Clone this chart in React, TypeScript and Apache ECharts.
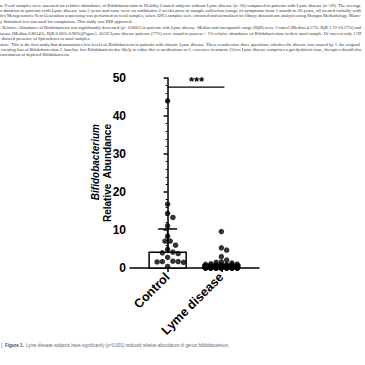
import React, { useEffect, useRef } from "react";
import * as echarts from "echarts";

const groups = ["Control", "Lyme disease"];
const groupPos = [0, 1];
const controlValues = [44.0, 16.8, 14.4, 13.3, 11.1, 8.4, 7.1, 7.1, 6.0, 4.9, 4.2, 4.0, 3.8, 2.8, 1.8, 1.7, 1.7, 1.6, 1.5, 0.4];
const lymeValues = [
  9.6, 5.3, 4.7, 3.0, 2.1, 1.6, 1.5, 1.3, 1.1, 1.0,
  0.95, 0.9, 0.85, 0.8, 0.8, 0.7, 0.6, 0.6, 0.5, 0.5,
  0.45, 0.4, 0.4, 0.35, 0.3, 0.3, 0.25, 0.2, 0.2, 0.2,
  0.15, 0.15, 0.1, 0.1, 0.1, 0.08, 0.05, 0.05, 0.05, 0.03,
  0.02, 0.02, 0.01, 0.01, 0, 0, 0, 0, 0, 0,
  0, 0, 0, 0, 0, 0, 0, 0, 0,
];
const medians = [4.17, 0.8];
const upperIQR = [10.27, 0.96];
const significance = { from: 0, to: 1, y: 47.6, label: "***" };
const yTicks = { min: 0, max: 50, interval: 10 };

const paragraphLines = [
  "n: Fecal samples were assessed for relative abundance of Bifidobacterium in Healthy Control subjects without Lyme disease (n=20) compared to patients with Lyme disease (n=59). The average",
  "n duration in patients with Lyme disease was 5 years and none were on antibiotics 2 weeks prior to sample collection (range of symptoms from 1 month to 20 years, all treated initially with",
  "tic) Metagenomics Next Generation sequencing was performed on fecal samples, where DNA samples were extracted and normalized for library downstream analysis using Shotgun Methodology. Mann-",
  "y Statistical test was used for comparison. This study was IRB approved.",
  ": Relative Abundance of Bifidobacteria was significantly decreased (p< 0.0001) in patients with Lyme disease. Median and interquartile range (IQR) were: Control (Median 4.17%; IQR 1.72-10.27%) and",
  "isease (Median 0.8014%; IQR 0.00%-0.96%)(Figure). 50/59 Lyme disease patients (77%) were found to possess < 1% relative abundance of Bifidobacterium in their stool sample. Of interest only 1/39",
  " showed presence of Spirochetes in stool samples.",
  "sion:  This is the first study that demonstrates low levels of Bifidobacteria in patients with chronic Lyme disease. These results raise three questions; whether the disease was caused by 1. the original",
  "-creating loss of Bifidobacterium 2. baseline low Bifidobacteria due likely to either diet or medications or 3. excessive treatment. Given Lyme disease comprises a gut dysbiosis issue, therapies should also",
  "ementation of depleted Bifidobacteria.",
];
const fullLine = [true, true, true, false, true, true, false, true, true, false];
const lineY = [5, 10.3, 15.9, 21.4, 27.6, 33, 38.3, 44.2, 49.4, 54.7];
const captionLabel = "Figure 1.";
const captionText = "Lyme disease subjects have significantly (p<0.001) reduced relative abundance of genus bifidobacterium.";

function swarm(values: number[], center: number) {
  const pxPerX = 54;
  const pxPerY = 3.8;
  const diameter = 5.3;
  const maxPx = 17;
  const step = diameter / 2;
  const sorted = values.map((v, i) => ({ v, i })).sort((a, b) => b.v - a.v);
  const placed: { x: number; y: number }[] = [];
  const out: [number, number][] = [];
  for (const p of sorted) {
    const y = p.v * pxPerY;
    const cands = [0];
    for (let k = 1; k * step <= maxPx; k++) cands.push(k * step, -k * step);
    let best = 0;
    let bestScore = Infinity;
    for (const c of cands) {
      let overlap = 0;
      for (const q of placed) {
        const d = Math.hypot(q.x - c, q.y - y);
        if (d < diameter) overlap += diameter - d;
      }
      if (overlap < bestScore - 1e-9) {
        bestScore = overlap;
        best = c;
      }
      if (overlap === 0) break;
    }
    placed.push({ x: best, y });
    out.push([center + best / pxPerX, p.v]);
  }
  return out;
}

const FONT = "'Liberation Sans', Arial, Helvetica, sans-serif";
const SERIF = "'Liberation Serif', 'Times New Roman', serif";

export default function App() {
  const ref = useRef<HTMLDivElement>(null);
  useEffect(() => {
    document.body.style.margin = "0";
    const chart = echarts.init(ref.current!, null, { renderer: "svg" });
    const barData = groupPos.map((g, i) => [g, medians[i], upperIQR[i]]);

    const paraSize = 5;
    const ctx = document.createElement("canvas").getContext("2d")!;
    ctx.font = `${paraSize}px ${SERIF}`;
    const widths = paragraphLines.map((t) => ctx.measureText(t).width || t.length * 2);
    const fullScales = widths.filter((_, i) => fullLine[i]).map((w) => 362 / w);
    const avgScale = fullScales.reduce((a, b) => a + b, 0) / fullScales.length;
    const capSize = 4.5;
    ctx.font = `${capSize}px ${FONT}`;
    const capW = ctx.measureText(captionText).width || 200;
    const capScale = 204 / capW;

    const graphics: any[] = [];
    paragraphLines.forEach((t, i) => {
      graphics.push({
        type: "text",
        x: 0,
        y: lineY[i],
        scaleX: fullLine[i] ? 362 / widths[i] : avgScale,
        style: { text: t, fontFamily: SERIF, fontSize: paraSize, fill: "#333", verticalAlign: "middle" },
      });
    });
    graphics.push({
      type: "text",
      x: 1,
      y: 345.5,
      style: { text: "]", fontFamily: FONT, fontSize: 4.5, fill: "#555", verticalAlign: "middle" },
    });
    graphics.push({
      type: "text",
      x: 5,
      y: 345.5,
      style: { text: captionLabel, fontFamily: FONT, fontSize: 4.5, fontWeight: "bold", fill: "#3c4a6a", verticalAlign: "middle" },
    });
    graphics.push({
      type: "text",
      x: 26,
      y: 345.5,
      scaleX: capScale,
      style: { text: captionText, fontFamily: FONT, fontSize: capSize, fill: "#667", verticalAlign: "middle" },
    });
    graphics.push({
      type: "text",
      x: 95,
      y: 124,
      rotation: Math.PI / 2,
      style: { text: "Bifidobacterium", fontFamily: FONT, fontSize: 10, fontWeight: "bold", fontStyle: "italic", fill: "#000", align: "right", verticalAlign: "middle" },
    });
    graphics.push({
      type: "text",
      x: 107,
      y: 124,
      rotation: Math.PI / 2,
      style: { text: "Relative  Abundance", fontFamily: FONT, fontSize: 10, fontWeight: "bold", fill: "#000", align: "right", verticalAlign: "middle" },
    });

    const option: any = {
      animation: false,
      backgroundColor: "#fff",
      grid: { left: 130, right: 106, top: 78, bottom: 97, containLabel: false },
      xAxis: {
        type: "value",
        min: -0.7,
        max: 1.7,
        splitLine: { show: false },
        axisLine: { show: true, onZero: false, lineStyle: { color: "#000", width: 1.5 } },
        axisTick: { show: true, customValues: groupPos, length: 4, lineStyle: { color: "#000", width: 1.5 } },
        axisLabel: {
          customValues: groupPos,
          formatter: (v: number) => groups[Math.round(v)],
          rotate: 45,
          fontFamily: FONT,
          fontWeight: "bold",
          fontSize: 12.5,
          color: "#000",
          margin: 7,
        },
      },
      yAxis: {
        type: "value",
        min: yTicks.min,
        max: yTicks.max,
        interval: yTicks.interval,
        splitLine: { show: false },
        axisLine: { show: true, lineStyle: { color: "#000", width: 1.5 } },
        axisTick: { show: true, length: 4, lineStyle: { color: "#000", width: 1.5 } },
        minorTick: { show: true, splitNumber: 5, length: 2, lineStyle: { color: "#000", width: 1 } },
        axisLabel: { fontFamily: FONT, fontWeight: "bold", fontSize: 12, color: "#000", margin: 4 },
      },
      graphic: graphics,
      series: [
        {
          type: "custom",
          z: 1,
          data: barData,
          renderItem: (params: any, api: any) => {
            const x = api.value(0);
            const p0 = api.coord([x, 0]);
            const p1 = api.coord([x, api.value(1)]);
            const p2 = api.coord([x, api.value(2)]);
            const hw = 18.5;
            const cap = 9.5;
            return {
              type: "group",
              children: [
                { type: "rect", shape: { x: p0[0] - hw, y: p1[1], width: hw * 2, height: p0[1] - p1[1] }, style: { fill: "#fff", stroke: "#000", lineWidth: 1.5 } },
                { type: "line", shape: { x1: p1[0], y1: p1[1], x2: p2[0], y2: p2[1] }, style: { stroke: "#000", lineWidth: 1.5 } },
                { type: "line", shape: { x1: p2[0] - cap, y1: p2[1], x2: p2[0] + cap, y2: p2[1] }, style: { stroke: "#000", lineWidth: 1.5 } },
              ],
            };
          },
        },
        {
          type: "scatter",
          z: 3,
          data: swarm(controlValues, groupPos[0]),
          symbolSize: 5.5,
          itemStyle: { color: "#000" },
        },
        {
          type: "scatter",
          z: 3,
          data: swarm(lymeValues, groupPos[1]),
          symbolSize: 5.5,
          itemStyle: { color: "#000" },
        },
        {
          type: "custom",
          z: 4,
          data: [[significance.from, significance.to, significance.y]],
          renderItem: (params: any, api: any) => {
            const a = api.coord([api.value(0), api.value(2)]);
            const b = api.coord([api.value(1), api.value(2)]);
            return {
              type: "group",
              children: [
                { type: "line", shape: { x1: a[0], y1: a[1], x2: b[0] + 3, y2: b[1] }, style: { stroke: "#000", lineWidth: 1.3 } },
                { type: "text", x: (a[0] + b[0]) / 2 + 2, y: a[1] + 1, style: { text: significance.label, fontFamily: FONT, fontSize: 13, fontWeight: "bold", fill: "#000", align: "center", verticalAlign: "bottom" } },
              ],
            };
          },
        },
      ],
    };
    chart.setOption(option);
    return () => chart.dispose();
  }, []);
  return <div ref={ref} style={{ width: 365, height: 365 }} />;
}
